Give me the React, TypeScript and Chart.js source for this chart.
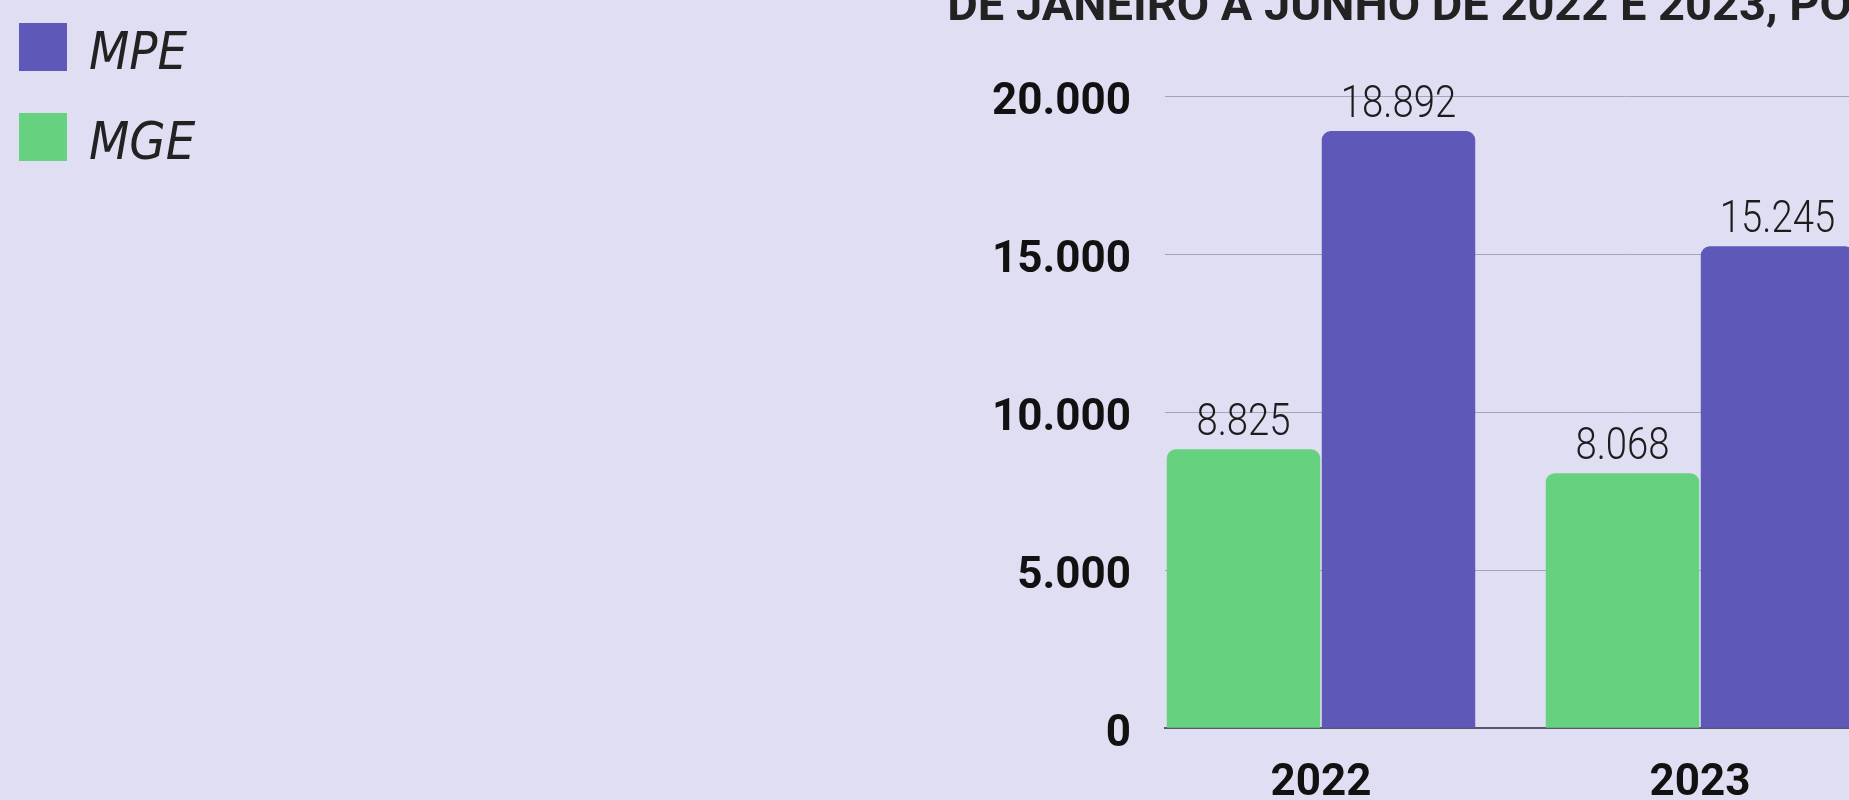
import React, { useEffect, useRef } from 'react';
import { Chart, registerables } from 'chart.js';

Chart.register(...registerables);

// ---- data ----
const YEARS = ['2022', '2023'];
const SERIES_NAMES = ['MGE', 'MPE'];
const MGE_VALUES = [8825, 8068];
const MPE_VALUES = [18892, 15245];
const Y_MIN = 0;
const Y_MAX = 20000;
const Y_STEP = 5000;
const TITLE = 'DE JANEIRO A JUNHO DE 2022 E 2023, POR PORTE';

// ---- style ----
const BG = '#e0def3';
const GREEN = '#66d17f';
const PURPLE = '#5e58b9';
const GRID = '#a5a3b7';
const AXIS = '#57556a';
const TEXT = '#1c1c1c';

const W = 3003;
const H = 851;
const PAD = { left: -15, top: -9, right: 0, bottom: 12 };
const PLOT_LEFT = 1165;
const X_MIN = -0.4116;
const PX_PER_CAT = 379;
const X_MAX = X_MIN + (W - PAD.right - PLOT_LEFT) / PX_PER_CAT;

const fmt = (v: number) => String(Math.round(v)).replace(/\B(?=(\d{3})+(?!\d))/g, '.');

const valueLabels = {
  id: 'valueLabels',
  afterDatasetsDraw(chart: any) {
    const ctx = chart.ctx;
    chart.data.datasets.forEach((ds: any, di: number) => {
      const meta = chart.getDatasetMeta(di);
      meta.data.forEach((el: any, i: number) => {
        const v = ds.data[i].y;
        ctx.save();
        ctx.translate(el.x, el.y - 14);
        ctx.scale(0.87, 1);
        ctx.font = '300 44px Roboto';
        ctx.fillStyle = TEXT;
        ctx.textAlign = 'center';
        ctx.textBaseline = 'alphabetic';
        ctx.fillText(fmt(v), 0, 0);
        ctx.restore();
      });
    });
  },
};

function makeSwatch(color: string) {
  const c = document.createElement('canvas');
  c.width = 48;
  c.height = 64;
  const g = c.getContext('2d');
  if (g) {
    g.fillStyle = color;
    g.fillRect(0, 0, 48, 48);
  }
  return c;
}

export default function App() {
  const ref = useRef<HTMLCanvasElement | null>(null);

  useEffect(() => {
    document.body.style.margin = '0';
    document.body.style.background = BG;
    document.body.style.overflow = 'hidden';
    document.documentElement.style.background = BG;
    const canvas = ref.current;
    if (!canvas) return;

    const seriesValues = [MGE_VALUES, MPE_VALUES];
    const colors = [GREEN, PURPLE];
    const swatches = colors.map(makeSwatch);

    const chart = new Chart(canvas, {
      type: 'bar',
      data: {
        datasets: SERIES_NAMES.map((name, si) => ({
          label: name,
          data: YEARS.map((_, i) => ({ x: i, y: seriesValues[si][i] })),
          backgroundColor: colors[si],
          borderWidth: 0,
          borderRadius: 9,
          borderSkipped: 'start',
          categoryPercentage: 0.818,
          barPercentage: 0.99,
        })),
      },
      options: {
        responsive: false,
        animation: false,
        devicePixelRatio: 1,
        layout: { padding: PAD },
        plugins: {
          tooltip: { enabled: false },
          legend: {
            position: 'left',
            align: 'start',
            reverse: true,
            labels: {
              usePointStyle: true,
              pointStyleWidth: 40,
              boxWidth: 48,
              boxHeight: 48,
              padding: 38,
              color: '#222222',
              font: {
                family: "'Liberation Sans Narrow', 'DejaVu Sans Condensed', Roboto, sans-serif",
                size: 52,
                style: 'italic',
                weight: 'normal',
              },
              generateLabels: (ch: any) => {
                const items = (Chart.defaults as any).plugins.legend.labels.generateLabels(ch);
                return items.map((it: any) => ({ ...it, pointStyle: swatches[it.datasetIndex] }));
              },
            },
          },
          title: {
            display: true,
            text: TITLE,
            position: 'top',
            align: 'center',
            color: '#222222',
            font: { family: 'Roboto', size: 47, weight: 'bold', lineHeight: 1.2 },
            padding: { top: -10.7, bottom: 59.3 },
          },
        },
        scales: {
          x: {
            type: 'linear',
            min: X_MIN,
            max: X_MAX,
            bounds: 'data',
            offset: false,
            afterBuildTicks: (scale: any) => {
              scale.ticks = YEARS.map((_, i) => ({ value: i }));
            },
            grid: { display: false, drawTicks: false, offset: false },
            border: { display: true, color: AXIS, width: 2 },
            ticks: {
              autoSkip: false,
              maxRotation: 0,
              padding: 29,
              color: '#111111',
              font: { family: 'Roboto', size: 44, weight: 'bold' },
              callback: (v: any) => (Number.isInteger(v) && YEARS[v] !== undefined ? YEARS[v] : ''),
            },
          },
          y: {
            min: Y_MIN,
            max: Y_MAX,
            afterFit: (scale: any) => {
              const lg = scale.chart.legend;
              const lw = lg ? lg.width : 0;
              scale.width = PLOT_LEFT - PAD.left - lw;
            },
            grid: { color: GRID, lineWidth: 1, drawTicks: false },
            border: { display: false },
            ticks: {
              stepSize: Y_STEP,
              padding: 34,
              labelOffset: 7,
              color: '#111111',
              font: { family: 'Roboto', size: 44, weight: 'bold' },
              callback: (v: any) => fmt(Number(v)),
            },
          },
        },
      },
      plugins: [valueLabels],
    });

    return () => chart.destroy();
  }, []);

  return (
    <div style={{ width: W, height: H, background: BG }}>
      <canvas ref={ref} width={W} height={H} style={{ display: 'block' }} />
    </div>
  );
}
